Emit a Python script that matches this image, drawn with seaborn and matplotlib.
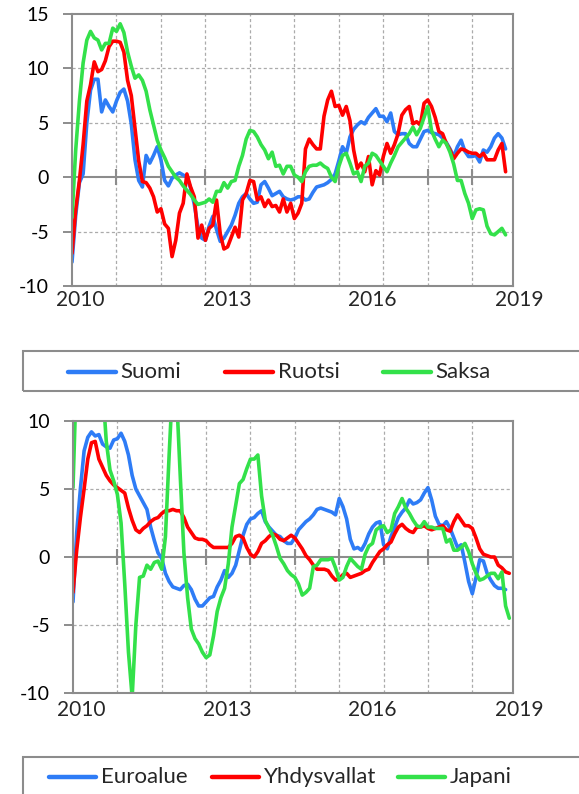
import numpy as np
import pandas as pd
import matplotlib
matplotlib.use("Agg")
import matplotlib.pyplot as plt
import seaborn as sns
from matplotlib.patches import Rectangle
from matplotlib.lines import Line2D

# ---------------- data ----------------
year_labels = ["2010", "2013", "2016", "2019"]
names_top = ["Suomi", "Ruotsi", "Saksa"]
names_bottom = ["Euroalue", "Yhdysvallat", "Japani"]

suomi = [-7.8, -3.5, -0.5, 0.3, 5.0, 8.0, 9.0, 9.0, 6.0, 7.1, 6.5, 6.0, 7.0, 7.8, 8.1, 7.0,
         4.9, 1.6, -0.3, -0.9, 2.0, 1.3, 2.0, 2.8, 1.6, -0.3, -0.8, -0.1, 0.2, 0.4, 0.2, 0.0,
         -1.0, -2.5, -4.6, -5.6, -5.8, -4.5, -3.6, -4.8, -5.9, -5.6, -5.0, -4.4, -3.5, -2.4,
         -1.8, -1.5, -2.0, -2.4, -2.3, -0.7, -0.4, -1.0, -1.7, -1.5, -1.3, -1.8, -2.0, -2.1,
         -2.0, -1.8, -1.8, -2.1, -2.0, -1.4, -0.9, -0.8, -0.7, -0.5, -0.2, 0.3, 1.5, 2.8, 2.2,
         3.7, 4.4, 4.8, 5.1, 4.9, 5.5, 5.9, 6.3, 5.6, 5.6, 5.1, 5.9, 4.2, 3.9, 4.0, 4.0, 3.1,
         2.8, 2.8, 3.5, 4.2, 4.3, 4.1, 4.0, 3.9, 3.6, 3.2, 2.6, 1.9, 2.8, 3.4, 2.4, 1.9, 1.9,
         2.0, 1.4, 2.5, 2.3, 2.8, 3.6, 4.0, 3.6, 2.6]
ruotsi = [-7.0, -3.0, -0.3, 3.0, 7.0, 8.5, 10.6, 9.7, 9.9, 10.7, 12.0, 12.5, 12.5, 12.4, 11.5,
          8.9, 7.5, 4.5, 1.5, -0.4, -0.5, -1.0, -1.8, -3.2, -2.9, -4.3, -4.7, -7.3, -5.8, -3.3,
          -2.4, 0.3, -0.9, -1.8, -5.6, -4.4, -5.8, -4.7, -4.4, -2.1, -5.2, -6.6, -6.4, -5.5,
          -4.6, -5.5, -2.1, -1.5, -0.3, -0.4, -2.1, -1.8, -2.7, -2.1, -2.7, -2.6, -3.2, -2.0,
          -3.2, -2.4, -3.8, -3.3, -2.4, 2.6, 3.5, 3.0, 2.6, 2.6, 5.6, 7.1, 7.9, 6.5, 6.6, 5.7,
          6.5, 5.2, 2.5, 0.8, 1.3, 0.5, 1.9, -0.7, 0.6, 0.2, 1.9, 3.1, 2.2, 3.0, 4.0, 5.7, 6.2,
          6.5, 4.9, 5.1, 4.8, 6.8, 7.1, 6.5, 5.5, 4.2, 4.0, 3.1, 2.5, 1.7, 2.2, 2.6, 2.5, 2.3,
          2.2, 2.2, 1.9, 2.2, 1.6, 1.6, 1.6, 2.5, 3.1, 0.5]
saksa = [-3.7, 2.5, 7.0, 10.5, 12.6, 13.4, 12.8, 12.6, 11.7, 12.3, 12.3, 13.7, 13.4, 14.1, 13.3,
         11.5, 10.2, 9.1, 9.4, 8.9, 7.9, 6.2, 4.8, 3.4, 2.5, 1.8, 1.0, 0.5, 0.0, -0.3, -0.8,
         -1.2, -1.6, -2.1, -2.5, -2.4, -2.3, -2.0, -2.3, -1.3, -1.3, -0.5, -1.0, -0.4, -0.3,
         1.0, 2.0, 3.5, 4.3, 4.2, 3.7, 3.0, 2.5, 1.7, 2.3, 1.0, 1.1, 0.3, 1.0, 1.0, 0.2, 0.0,
         -0.4, 0.5, 1.0, 1.1, 1.1, 1.3, 1.0, 0.8, 0.0, -0.4, 1.0, 2.0, 2.2, 1.3, 0.3, 0.5, -0.4,
         1.0, 1.3, 2.2, 2.0, 1.5, 1.0, 0.5, 1.3, 2.0, 2.8, 3.2, 3.6, 4.0, 4.6, 3.9, 4.5, 5.5,
         6.5, 4.3, 3.5, 2.8, 3.4, 3.1, 2.3, 1.2, -0.3, -0.3, -1.5, -2.4, -3.8, -3.0, -2.9,
         -3.0, -4.5, -5.2, -5.3, -5.0, -4.7, -5.3]

euroalue = [-3.3, 1.8, 5.0, 7.8, 8.8, 9.2, 8.9, 9.0, 8.3, 8.1, 8.0, 8.6, 8.7, 9.1, 8.5, 7.5,
            6.0, 5.0, 4.5, 4.0, 3.5, 2.2, 1.2, 0.3, -0.1, -1.2, -1.8, -2.2, -2.3, -2.4, -2.1,
            -2.0, -2.4, -3.1, -3.6, -3.6, -3.3, -3.0, -2.9, -2.2, -1.7, -1.0, -1.5, -1.2, -0.6,
            0.5, 1.6, 2.4, 2.8, 2.9, 3.2, 3.4, 2.6, 2.2, 1.9, 1.6, 1.5, 1.2, 1.0, 1.0, 1.4, 2.0,
            2.3, 2.6, 2.8, 3.1, 3.5, 3.6, 3.5, 3.4, 3.3, 3.1, 4.3, 3.7, 2.8, 1.3, 0.6, 0.7, 0.5,
            1.0, 1.7, 2.2, 2.5, 2.6, 0.9, 0.6, 1.5, 2.2, 2.9, 3.3, 3.6, 4.2, 3.9, 4.0, 4.2, 4.7,
            5.1, 4.2, 3.0, 2.4, 2.3, 2.6, 2.1, 1.4, 0.7, 0.9, -0.4, -1.8, -2.7, -1.5, -0.2,
            -0.3, -1.2, -1.7, -2.1, -2.3, -2.3, -2.4]
yhdysvallat = [-2.6, 0.5, 2.9, 5.0, 7.2, 8.4, 8.5, 7.2, 6.6, 6.0, 5.6, 5.3, 5.1, 4.9, 4.7, 3.6,
               2.7, 2.0, 1.8, 2.1, 2.3, 2.6, 2.8, 2.9, 3.2, 3.4, 3.4, 3.5, 3.4, 3.4, 2.9, 2.2,
               1.8, 1.4, 1.3, 1.3, 1.2, 0.9, 0.7, 0.7, 0.7, 0.7, 0.7, 1.0, 1.5, 1.6, 1.4, 0.7,
               0.2, 0.0, 0.4, 1.0, 1.2, 1.5, 1.7, 1.6, 1.3, 1.2, 1.4, 1.6, 1.4, 1.0, 0.6, 0.1,
               -0.2, -0.6, -0.9, -0.9, -0.9, -1.0, -1.4, -1.7, -1.6, -1.3, -1.2, -1.5, -1.4,
               -1.3, -1.2, -1.0, -0.9, -0.4, 0.0, 0.4, 0.6, 0.9, 1.1, 1.7, 2.2, 2.4, 2.1, 1.9,
               1.8, 2.2, 2.2, 2.3, 2.1, 2.0, 2.1, 2.2, 2.3, 2.0, 1.9, 2.6, 3.1, 2.7, 2.3, 2.3,
               2.1, 1.4, 0.6, 0.2, 0.1, 0.0, 0.0, -0.6, -0.8, -1.1, -1.2]
japani = [5.1, 14.0, 17.0, 18.5, 19.0, 18.5, 17.0, 15.0, 12.5, 8.5, 6.4, 5.6, 4.6, 2.5, -2.0,
          -7.0, -10.3, -5.0, -1.5, -1.4, -0.6, -0.9, -0.4, -0.3, -0.9, 1.5, 7.5, 13.0, 12.0,
          6.0, 0.3, -3.0, -5.3, -6.0, -6.4, -7.0, -7.4, -7.2, -5.8, -4.0, -3.0, -2.3, -0.5,
          2.2, 3.8, 5.4, 5.7, 6.5, 7.2, 7.2, 7.5, 4.5, 2.7, 2.1, 1.6, 0.8, -0.1, -0.5, -1.0,
          -1.3, -1.5, -2.0, -2.8, -2.6, -2.3, -0.7, -0.6, -0.2, -0.2, -0.2, -0.1, -0.8, -1.7,
          -1.5, -0.7, -0.1, -0.4, -0.7, -0.9, 0.2, 0.8, 1.0, 2.0, 2.2, 2.3, 1.8, 2.0, 3.2, 3.7,
          4.3, 3.6, 3.2, 2.7, 2.3, 2.2, 2.6, 2.2, 2.2, 2.1, 2.1, 2.1, 1.1, 1.3, 0.5, 0.5, 0.7,
          1.0, 0.4, -0.5, -1.2, -1.7, -1.6, -1.4, -1.2, -1.2, -1.6, -1.1, -3.6, -4.5]

colors = ["#2E7CF6", "#FF0000", "#33E14A"]


def long_frame(names, series):
    parts = []
    for n, s in zip(names, series):
        parts.append(pd.DataFrame({"month": np.arange(len(s)), "value": s, "series": n}))
    return pd.concat(parts, ignore_index=True)


df_top = long_frame(names_top, [suomi, ruotsi, saksa])
df_bot = long_frame(names_bottom, [euroalue, yhdysvallat, japani])

# ---------------- styling ----------------
sns.set_style("white")
plt.rcParams["font.family"] = ["Lato", "DejaVu Sans"]
plt.rcParams["axes.unicode_minus"] = False

W, H = 579, 794
fig = plt.figure(figsize=(W / 100, H / 100), dpi=100)

GRAY = "#8C8C8C"
GRID = "#ABABAB"
XMAX = 119
year_pos = [2.1, 41.8, 81.0, 120.7]   # label positions (months from start)


def make_axes(left, right, top, bottom):
    return fig.add_axes([left / W, 1 - bottom / H, (right - left) / W, (bottom - top) / H])


def style_axes(ax, ylim, yticks, label_offset):
    ax.set_xlim(0, XMAX)
    ax.set_ylim(*ylim)
    ax.set_yticks(yticks)
    ax.set_xticks([])
    ax.tick_params(axis="y", length=6.5, width=1.4, color=GRAY, pad=10,
                   labelsize=14, labelcolor="black", direction="out", left=True)
    ax.grid(False)
    grid_x = np.arange(12, XMAX, 12)
    for gx in grid_x:
        ax.axvline(gx, color=GRID, lw=0.9, ls=(0, (2.5, 2.0)), zorder=0.6)
    for gy in yticks:
        if gy not in (0, ylim[0], ylim[1]):
            ax.axhline(gy, color=GRID, lw=0.9, ls=(0, (2.5, 2.0)), zorder=0.6)
    for sp in ax.spines.values():
        sp.set_color(GRAY)
        sp.set_linewidth(1.5)
    ax.axhline(0, color=GRAY, lw=1.5, zorder=1)
    ax.plot(grid_x, np.zeros(len(grid_x)), ls="none", marker="|", ms=11, mew=1.5,
            color=GRAY, zorder=1.2)
    ax.set_xlabel("")
    ax.set_ylabel("")
    for lab, p in zip(year_labels, year_pos):
        ax.annotate(lab, xy=(p, 0), xycoords=("data", "axes fraction"),
                    xytext=(0, label_offset), textcoords="offset points",
                    ha="center", va="center", fontsize=15, annotation_clip=False)


ax1 = make_axes(72, 513, 14, 286)
sns.lineplot(data=df_top, x="month", y="value", hue="series", hue_order=names_top,
             palette=colors, linewidth=2.6, legend=False, errorbar=None, ax=ax1)
style_axes(ax1, (-10, 15), [-10, -5, 0, 5, 10, 15], -10)

ax2 = make_axes(73, 513, 421, 693)
sns.lineplot(data=df_bot, x="month", y="value", hue="series", hue_order=names_bottom,
             palette=colors, linewidth=2.6, legend=False, errorbar=None, ax=ax2)
style_axes(ax2, (-10, 10), [-10, -5, 0, 5, 10], -12)


def draw_legend(box_top, box_bottom, yc, names, line_x, text_x):
    fig.add_artist(Rectangle((23 / W, 1 - box_bottom / H), (600 - 23) / W,
                             (box_bottom - box_top) / H, transform=fig.transFigure,
                             fill=False, edgecolor=GRAY, lw=1.5, clip_on=False))
    for n, c, (x0, x1), tx in zip(names, colors, line_x, text_x):
        fig.add_artist(Line2D([x0 / W, x1 / W], [1 - yc / H, 1 - yc / H],
                              transform=fig.transFigure, color=c, lw=3.2,
                              solid_capstyle="round"))
        fig.text(tx / W, 1 - yc / H, n, ha="left", va="center", fontsize=16)


draw_legend(351, 391, 372, names_top, [(68, 116), (225, 273), (383, 431)], [120, 278, 435])
draw_legend(757, 800, 777, names_bottom, [(49, 96), (212, 259), (398, 445)], [101, 264, 450])

fig.savefig("out.png", dpi=100)
